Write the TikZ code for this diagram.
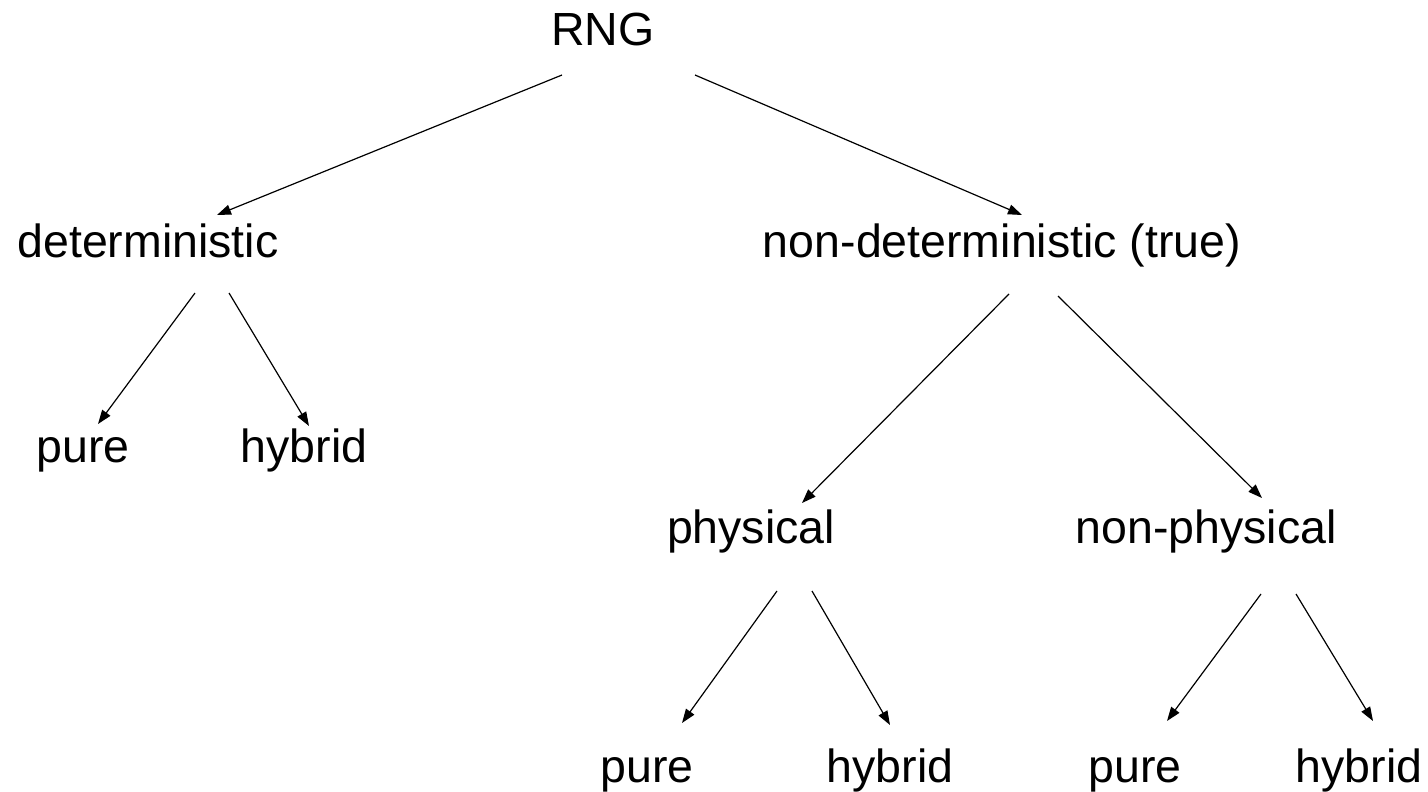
\documentclass[tikz,border=0pt]{standalone}
\usepackage{fontspec}
\setmainfont{Liberation Sans}
\usetikzlibrary{calc,arrows.meta}
\begin{document}
\begin{tikzpicture}[x=1pt,y=-1pt,
  lbl/.style={anchor=base,inner sep=0pt,font=\fontsize{46.5}{56}\selectfont},
  arr/.style={line width=1.2pt,-{Triangle[length=14pt,width=10pt]}}]
\useasboundingbox (0,0) rectangle (1428,792);
\node[lbl] (rng) at (603,46) {RNG};
\node[lbl] (det) at (148,257) {deterministic};
\node[lbl] (nondet) at (1002,257) {non-deterministic (true)};
\node[lbl] (pureL) at (83,462) {pure};
\node[lbl] (hybL) at (304,462) {hybrid};
\node[lbl] (phys) at (751,543) {physical};
\node[lbl] (nonphys) at (1206,543) {non-physical};
\node[lbl] (pureA) at (647,782) {pure};
\node[lbl] (hybA) at (890,782) {hybrid};
\node[lbl] (pureB) at (1135,782) {pure};
\node[lbl] (hybB) at (1359,782) {hybrid};
\draw[arr] ($(rng.base)+(-41,29)$) -- ($(det.base)+(69,-42)$);
\draw[arr] ($(rng.base)+(92,29)$) -- ($(nondet.base)+(20,-42)$);
\draw[arr] ($(det.base)+(47,36)$) -- ($(pureL.base)+(15,-38)$);
\draw[arr] ($(det.base)+(81,36)$) -- ($(hybL.base)+(5,-36)$);
\draw[arr] ($(nondet.base)+(7,37)$) -- ($(phys.base)+(51,-40)$);
\draw[arr] ($(nondet.base)+(56,39)$) -- ($(nonphys.base)+(56,-45)$);
\draw[arr] ($(phys.base)+(26,48)$) -- ($(pureA.base)+(35,-59)$);
\draw[arr] ($(phys.base)+(61,48)$) -- ($(hybA.base)+(0,-57)$);
\draw[arr] ($(nonphys.base)+(55,51)$) -- ($(pureB.base)+(32,-61)$);
\draw[arr] ($(nonphys.base)+(90,51)$) -- ($(hybB.base)+(14,-61)$);
\end{tikzpicture}
\end{document}
